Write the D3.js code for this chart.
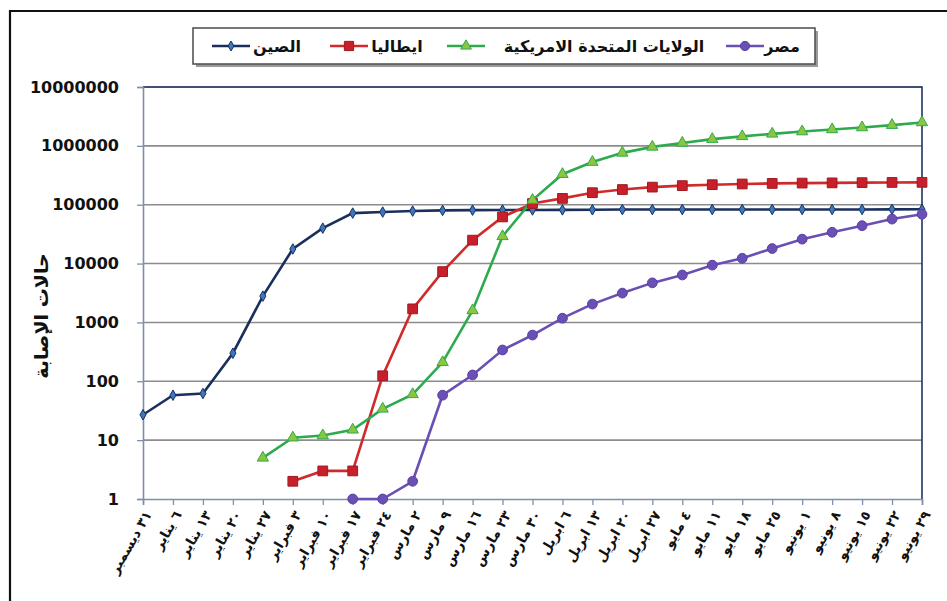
<!DOCTYPE html>
<html>
<head>
<meta charset="utf-8">
<title>covid log chart</title>
<script src="https://d3js.org/d3.v7.min.js"></script>
<style>
  body { margin: 0; background: #fff; overflow: hidden; }
  svg { display: block; }
  text { font-family: "DejaVu Sans", sans-serif; }
</style>
</head>
<body>
<svg id="chart" width="947" height="601"></svg>
<script>
// categories (weekly dates)
const dates = ["٣١ ديسمبر","٦ يناير","١٣ يناير","٢٠ يناير","٢٧ يناير","٣ فبراير","١٠ فبراير",
  "١٧ فبراير","٢٤ فبراير","٢ مارس","٩ مارس","١٦ مارس","٢٣ مارس","٣٠ مارس","٦ ابريل",
  "١٣ ابريل","٢٠ ابريل","٢٧ ابريل","٤ مايو","١١ مايو","١٨ مايو","٢٥ مايو","١ يونيو",
  "٨ يونيو","١٥ يونيو","٢٢ يونيو","٢٩ يونيو"];

const yTicks = [1, 10, 100, 1000, 10000, 100000, 1000000, 10000000];

const china = [27, 58, 62, 300, 2800, 17700, 40000, 72000, 75000, 78000, 80000, 80900, 81200,
  81500, 81700, 82000, 82700, 82800, 82900, 82900, 82900, 82950, 83000, 83000, 83100, 83400, 83500];
const italy = [null, null, null, null, null, 2, 3, 3, 124, 1700, 7300, 25000, 62000, 105000,
  128000, 160000, 181000, 199000, 211000, 219000, 225000, 230000, 233000, 235000, 237000, 239000, 240000];
const usa = [null, null, null, null, 5, 11, 12, 15, 34, 60, 210, 1600, 29000, 120000, 330000,
  530000, 760000, 960000, 1120000, 1300000, 1450000, 1600000, 1750000, 1900000, 2050000, 2250000, 2500000];
const egypt = [null, null, null, null, null, null, null, 1, 1, 2, 58, 128, 340, 610, 1180, 2050,
  3150, 4700, 6400, 9400, 12300, 18000, 26000, 34000, 44000, 57000, 69000];

const seriesNames = ["الصين", "ايطاليا", "الولايات المتحدة الامريكية", "مصر"];
const yTitle = "حالات الإصابة";

const series = [
  { name: seriesNames[0], values: china, line: "#1b2f5c", fill: "#3b78c0", stroke: "#1b2f5c", shape: d3.symbolDiamond, size: 32 },
  { name: seriesNames[1], values: italy, line: "#d02a2a", fill: "#c8202a", stroke: "#9e1a22", shape: d3.symbolSquare, size: 95 },
  { name: seriesNames[2], values: usa, line: "#2eaa4e", fill: "#8cc63f", stroke: "#2eaa4e", shape: d3.symbolTriangle, size: 55 },
  { name: seriesNames[3], values: egypt, line: "#6a50b4", fill: "#6a50b4", stroke: "#5a40a4", shape: d3.symbolCircle, size: 75 }
];

const svg = d3.select("#chart");
const plotL = 143, plotR = 922, plotT = 87, plotB = 499;

// outer frame (cropped on right / bottom)
svg.append("path").attr("d", "M10,620V11H960")
  .attr("fill", "none").attr("stroke", "#111").attr("stroke-width", 2.2);

const x = d3.scalePoint().domain(dates).range([plotL, plotR]).padding(0);
const y = d3.scaleLog().domain([1, 10000000]).range([plotB, plotT]);

// gridlines
svg.append("g").selectAll("line").data(yTicks.slice(1)).join("line")
  .attr("x1", plotL).attr("x2", plotR)
  .attr("y1", d => y(d)).attr("y2", d => y(d))
  .attr("stroke", "#8c8c8c").attr("stroke-width", 1.6);

// plot border top/right
svg.append("path").attr("d", `M${plotL},${plotT}H${plotR}V${plotB}`)
  .attr("fill", "none").attr("stroke", "#1f3560").attr("stroke-width", 1.6);

// y axis
const yAxis = svg.append("g").attr("transform", `translate(${plotL},0)`)
  .call(d3.axisLeft(y).tickValues(yTicks).tickFormat(d3.format("d")).tickSize(6).tickPadding(18));
yAxis.select(".domain").attr("stroke", "#7d90aa").attr("stroke-width", 1.6);
yAxis.selectAll(".tick line").attr("stroke", "#7d90aa").attr("stroke-width", 1.3);
yAxis.selectAll("text").attr("font-size", 16).attr("font-weight", "bold").attr("fill", "#111")
  .attr("font-family", "DejaVu Sans");

// x axis
const xAxis = svg.append("g").attr("transform", `translate(0,${plotB})`)
  .call(d3.axisBottom(x).tickSize(6).tickFormat(""));
xAxis.select(".domain").attr("stroke", "#7d90aa").attr("stroke-width", 1.6);
xAxis.selectAll(".tick line").attr("stroke", "#7d90aa").attr("stroke-width", 1.3);

svg.append("g").selectAll("text").data(dates).join("text")
  .attr("transform", d => `translate(${x(d) + 5},${plotB + 13}) rotate(-60)`)
  .attr("text-anchor", "end").attr("dy", "0.35em")
  .attr("font-size", 13.5).attr("font-weight", "bold").attr("fill", "#111")
  .text(d => d);

// y title
svg.append("text").attr("transform", "translate(41,316) rotate(-90)")
  .attr("text-anchor", "middle").attr("dy", "0.35em")
  .attr("font-size", 19).attr("font-weight", "bold").attr("fill", "#111")
  .text(yTitle);

// lines
const lineGen = d3.line().defined(d => d != null).x((d, i) => x(dates[i])).y(d => y(d));
const layer = svg.append("g");
series.forEach(s => {
  layer.append("path").datum(s.values)
    .attr("fill", "none").attr("stroke", s.line).attr("stroke-width", 2.6)
    .attr("d", lineGen);
});
series.forEach(s => {
  layer.append("g").selectAll("path")
    .data(s.values.map((v, i) => ({ v, i })).filter(d => d.v != null))
    .join("path")
    .attr("transform", d => `translate(${x(dates[d.i])},${y(d.v)})`)
    .attr("d", d3.symbol().type(s.shape).size(s.size))
    .attr("fill", s.fill).attr("stroke", s.stroke).attr("stroke-width", 1);
});

// legend
const lg = svg.append("g");
lg.append("rect").attr("x", 196).attr("y", 31).attr("width", 622).attr("height", 36).attr("fill", "#9a9a9a");
lg.append("rect").attr("x", 193).attr("y", 28).attr("width", 622).attr("height", 36)
  .attr("fill", "#fff").attr("stroke", "#555").attr("stroke-width", 1.6);
const legendLineX = [212, 330, 447, 726];
const legendTextX = [277, 397, 604, 782];
series.forEach((s, i) => {
  const ly = 46;
  lg.append("line").attr("x1", legendLineX[i]).attr("x2", legendLineX[i] + 38)
    .attr("y1", ly).attr("y2", ly).attr("stroke", s.line).attr("stroke-width", 2.4);
  lg.append("path").attr("transform", `translate(${legendLineX[i] + 19},${ly})`)
    .attr("d", d3.symbol().type(s.shape).size(s.size * 0.9))
    .attr("fill", s.fill).attr("stroke", s.stroke).attr("stroke-width", 1);
  lg.append("text").attr("x", legendTextX[i]).attr("y", ly).attr("dy", "0.35em")
    .attr("text-anchor", "middle").attr("font-size", 16).attr("font-weight", "bold").attr("fill", "#111")
    .text(s.name);
});
</script>
</body>
</html>
